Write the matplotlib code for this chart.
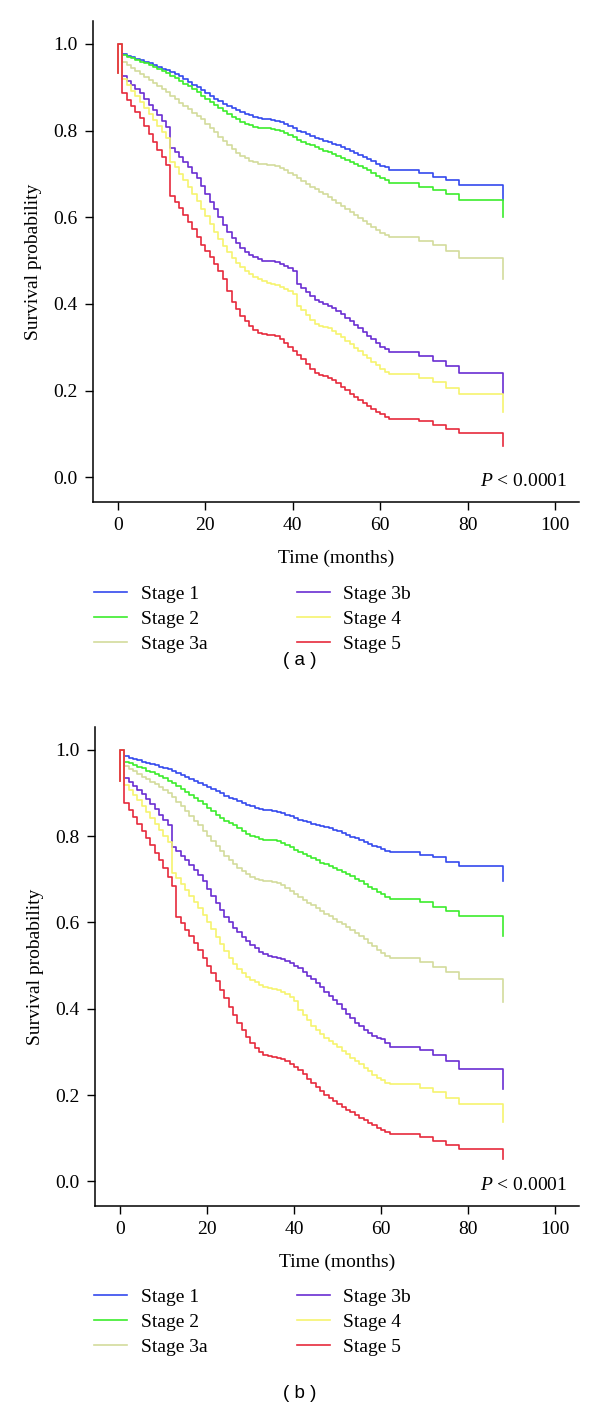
import matplotlib
matplotlib.use("Agg")
import matplotlib.pyplot as plt
from matplotlib.ticker import FormatStrFormatter

plt.rcParams["font.family"] = ["Liberation Serif", "DejaVu Serif"]
plt.rcParams["mathtext.fontset"] = "custom"
plt.rcParams["mathtext.it"] = "Liberation Serif:italic"
plt.rcParams["mathtext.rm"] = "Liberation Serif"

# step times (months): monthly up to 62, then the late steps
times = list(range(63)) + [69, 72, 75, 78]
last_time = 88

stages = ["Stage 1", "Stage 2", "Stage 3a", "Stage 3b", "Stage 4", "Stage 5"]
colors = ["#3449ee", "#3cec2c", "#d3dc9c", "#6a2ed2", "#f6f46e", "#e62a3c"]

# panel (a)
a_stage1 = [1.000, .977, .973, .969, .966, .962, .958, .955, .951, .947, .943, .940, .935, .930, .925, .920,
            .913, .906, .900, .893, .886, .880, .874, .868, .862, .857, .852, .847, .843, .839, .835, .832,
            .829, .827, .826, .825, .823, .820, .815, .810, .805, .800, .796, .792, .788, .784, .780, .777,
            .774, .770, .766, .762, .758, .754, .749, .744, .739, .734, .729, .724, .719, .715, .710,
            .702, .694, .685, .674]
a_stage2 = [1.000, .975, .971, .967, .963, .959, .955, .951, .947, .943, .938, .933, .927, .921, .915, .908,
            .902, .895, .888, .881, .874, .866, .859, .852, .845, .838, .832, .826, .821, .816, .812, .809,
            .807, .806, .805, .804, .802, .799, .795, .790, .785, .779, .774, .770, .766, .762, .758, .754,
            .750, .746, .742, .737, .733, .728, .723, .718, .713, .708, .702, .696, .690, .685, .679,
            .671, .664, .654, .641]
a_stage3a = [1.000, .958, .951, .944, .937, .930, .923, .916, .909, .902, .895, .888, .880, .872, .864, .857,
             .849, .841, .833, .826, .816, .806, .796, .786, .776, .766, .757, .749, .742, .736, .731, .727,
             .724, .722, .721, .720, .718, .714, .709, .703, .697, .690, .683, .677, .671, .665, .659, .653,
             .647, .641, .634, .627, .620, .613, .606, .599, .592, .585, .578, .571, .564, .559, .554,
             .545, .535, .522, .506]
a_stage3b = [1.000, .925, .915, .905, .895, .886, .872, .860, .848, .835, .822, .808, .760, .750, .740, .728,
             .716, .703, .690, .672, .654, .636, .618, .600, .583, .567, .553, .541, .530, .521, .514, .508,
             .503, .500, .499, .498, .496, .492, .487, .482, .476, .446, .437, .428, .419, .410, .405, .400,
             .395, .390, .383, .376, .368, .360, .352, .344, .336, .327, .318, .309, .300, .295, .290,
             .280, .269, .257, .241]
a_stage4 = [1.000, .918, .905, .892, .879, .866, .852, .838, .824, .810, .796, .782, .728, .715, .700, .685,
            .670, .654, .638, .620, .602, .584, .566, .549, .533, .519, .506, .495, .485, .476, .468, .462,
            .457, .452, .449, .447, .444, .440, .435, .429, .422, .396, .385, .374, .363, .353, .350, .347,
            .344, .338, .331, .323, .315, .307, .299, .291, .283, .275, .267, .259, .251, .244, .238,
            .229, .219, .206, .192]
a_stage5 = [1.000, .886, .871, .857, .843, .828, .810, .792, .774, .756, .738, .720, .650, .636, .622, .606,
            .590, .572, .555, .537, .522, .508, .492, .475, .457, .430, .405, .388, .373, .360, .349, .340,
            .334, .330, .329, .328, .326, .318, .310, .301, .292, .283, .273, .262, .250, .240, .236, .233,
            .229, .224, .217, .209, .201, .193, .186, .179, .172, .165, .158, .151, .145, .140, .135,
            .129, .121, .112, .102]
a_end = [.640, .600, .457, .195, .150, .072]

# panel (b)
b_stage1 = [1.000, .985, .982, .979, .976, .973, .970, .967, .964, .961, .958, .955, .951, .947, .942, .938,
            .933, .928, .924, .919, .914, .909, .904, .899, .894, .889, .885, .881, .877, .873, .869, .866,
            .863, .861, .860, .859, .857, .854, .850, .846, .842, .838, .835, .832, .829, .826, .823, .821,
            .819, .815, .811, .807, .803, .799, .795, .790, .786, .782, .778, .774, .770, .766, .763,
            .757, .751, .741, .732]
b_stage2 = [1.000, .973, .969, .965, .961, .957, .952, .948, .944, .939, .934, .929, .923, .916, .909, .902,
            .896, .889, .882, .874, .866, .858, .850, .843, .836, .830, .825, .819, .812, .806, .801, .797,
            .794, .792, .791, .790, .788, .784, .779, .774, .769, .764, .759, .754, .749, .744, .739, .735,
            .731, .727, .722, .717, .712, .707, .701, .695, .689, .683, .677, .671, .665, .660, .655,
            .647, .637, .627, .614]
b_stage3a = [1.000, .962, .956, .950, .944, .938, .932, .926, .920, .913, .906, .899, .890, .880, .869, .858,
             .847, .836, .825, .813, .801, .789, .777, .765, .754, .744, .735, .727, .719, .712, .706, .701,
             .698, .696, .695, .694, .691, .686, .680, .673, .666, .659, .652, .646, .640, .634, .627, .620,
             .614, .608, .602, .596, .589, .582, .575, .568, .561, .553, .545, .537, .529, .523, .518,
             .508, .497, .485, .469]
b_stage3b = [1.000, .935, .926, .917, .908, .898, .886, .874, .862, .850, .838, .826, .776, .766, .755, .744,
             .733, .722, .711, .695, .678, .661, .644, .628, .613, .600, .588, .577, .567, .557, .548, .540,
             .532, .526, .522, .520, .518, .515, .511, .506, .500, .495, .486, .477, .468, .460, .450, .440,
             .430, .420, .410, .399, .388, .378, .368, .359, .351, .344, .338, .333, .329, .320, .312,
             .304, .292, .279, .261]
b_stage4 = [1.000, .919, .907, .895, .883, .871, .857, .843, .829, .815, .801, .787, .714, .702, .689, .676,
            .662, .648, .634, .618, .601, .584, .567, .550, .533, .517, .503, .492, .482, .474, .467, .461,
            .456, .451, .448, .446, .443, .439, .434, .427, .419, .397, .385, .373, .361, .350, .341, .333,
            .326, .319, .311, .303, .295, .287, .279, .271, .263, .255, .247, .240, .234, .229, .225,
            .217, .207, .194, .180]
b_stage5 = [1.000, .876, .860, .844, .828, .812, .796, .779, .762, .745, .727, .706, .684, .612, .598, .583,
            .568, .552, .536, .518, .500, .482, .464, .444, .424, .404, .385, .367, .350, .335, .321, .309,
            .300, .294, .291, .289, .287, .283, .278, .272, .265, .257, .248, .238, .228, .218, .209, .201,
            .194, .187, .180, .173, .166, .160, .154, .148, .142, .136, .130, .124, .119, .114, .109,
            .103, .093, .084, .076]
b_end = [.697, .568, .415, .213, .137, .052]

panels = [
    ([a_stage1, a_stage2, a_stage3a, a_stage3b, a_stage4, a_stage5], a_end, 0.932, "( a )"),
    ([b_stage1, b_stage2, b_stage3a, b_stage3b, b_stage4, b_stage5], b_end, 0.928, "( b )"),
]

fig = plt.figure(figsize=(6, 14.09), dpi=100)
W, H = 600, 1409

# axes boxes in pixels: left, top, right, bottom
boxes = [(93, 21, 579, 502), (95, 727, 579, 1206)]
legend_tops = [585, 1288]
label_y = [660, 1393]

for (curves, ends, start_low, tag), box, leg_top, ly in zip(panels, boxes, legend_tops, label_y):
    l, t, r, b = box
    ax = fig.add_axes([l / W, 1 - b / H, (r - l) / W, (b - t) / H])
    for vals, end_val, name, col in zip(curves, ends, stages, colors):
        xs = [0, 0] + times + [last_time, last_time]
        ys = [start_low, 1.0] + vals + [vals[-1], end_val]
        ax.plot(xs, ys, drawstyle="steps-post", color=col, lw=1.2, label=name)
    ax.set_xlim(-5.7, 105.5)
    ax.set_ylim(-0.057, 1.053)
    ax.set_xticks([0, 20, 40, 60, 80, 100])
    ax.set_yticks([0.0, 0.2, 0.4, 0.6, 0.8, 1.0])
    ax.yaxis.set_major_formatter(FormatStrFormatter("%.1f"))
    for side in ["top", "right"]:
        ax.spines[side].set_visible(False)
    for side in ["left", "bottom"]:
        ax.spines[side].set_linewidth(1.1)
    ax.tick_params(direction="out", length=6, width=1.0, labelsize=14, pad=5)
    ax.set_xlabel("Time (months)", fontsize=14, labelpad=11)
    ax.set_ylabel("Survival probability", fontsize=14, labelpad=8)
    ax.text(0.975, 0.042, r"$P$ < 0.0001", transform=ax.transAxes, ha="right", va="center",
            fontsize=14)
    ax.legend(ncol=2, frameon=False, loc="upper left",
              bbox_to_anchor=(94 / W, 1 - leg_top / H), bbox_transform=fig.transFigure,
              fontsize=14, handlelength=1.7, handletextpad=0.7, columnspacing=4.6,
              labelspacing=0.38, borderpad=0, borderaxespad=0)
    fig.text(0.5, 1 - ly / H, tag, ha="center", va="center", fontsize=13.5,
             family=["Liberation Sans", "DejaVu Sans"])

fig.savefig("out.png", dpi=100)
